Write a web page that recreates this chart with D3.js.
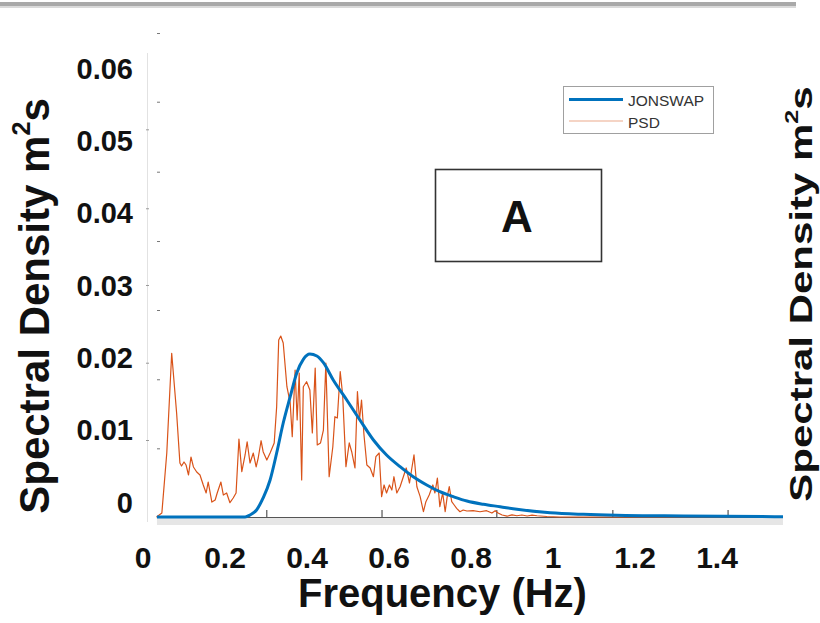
<!DOCTYPE html>
<html lang="en">
<head>
<meta charset="UTF-8">
<title>JONSWAP vs PSD</title>
<script src="https://d3js.org/d3.v7.min.js"></script>
<style>
  body { margin: 0; background: #fff; }
  text { font-family: "Liberation Sans", Arial, sans-serif; }
</style>
</head>
<body>
<script>
// values: frequency (Hz) and spectral density (m^2 s)
var psdFreq = [0.033,0.046,0.058,0.070,0.082,0.090,0.094,0.100,0.105,0.111,
  0.117,0.123,0.131,0.139,0.147,0.154,0.159,0.168,0.176,0.181,
  0.190,0.196,0.204,0.212,0.220,0.227,0.234,0.241,0.249,0.254,
  0.261,0.269,0.276,0.281,0.288,0.293,0.302,0.310,0.320,0.326,
  0.331,0.336,0.342,0.351,0.359,0.364,0.371,0.376,0.381,0.387,
  0.391,0.399,0.407,0.413,0.420,0.425,0.433,0.440,0.446,0.454,
  0.463,0.468,0.474,0.481,0.487,0.495,0.503,0.509,0.517,0.523,
  0.528,0.533,0.539,0.546,0.554,0.562,0.568,0.576,0.582,0.588,
  0.594,0.601,0.607,0.612,0.619,0.627,0.635,0.642,0.650,0.655,
  0.661,0.668,0.676,0.684,0.690,0.698,0.707,0.712,0.718,0.724,
  0.731,0.737,0.742,0.747,0.753,0.759,0.765,0.773,0.781,0.790,
  0.805,0.822,0.838,0.851,0.859,0.866,0.876,0.888,0.900,0.912,
  0.924,0.937,0.949,0.961,0.985,1.017,1.561];
var psdDens = [0,0.00055,0.00885,0.02264,0.01438,0.00747,0.00705,0.00761,0.00719,0.00581,
  0.00830,0.00692,0.00622,0.00581,0.00443,0.00332,0.00484,0.00207,0.00235,0.00332,
  0.00484,0.00304,0.00332,0.00198,0.00263,0.00332,0.01079,0.00627,0.00858,0.01041,
  0.00747,0.00885,0.00692,0.00816,0.01055,0.00903,0.00788,0.00885,0.01024,0.01526,
  0.02448,0.02503,0.02407,0.01802,0.01577,0.01111,0.02033,0.01342,0.01992,0.00512,
  0.01802,0.01871,0.01757,0.01162,0.02061,0.00996,0.01024,0.01203,0.02130,0.00557,
  0.00972,0.01387,0.01369,0.02010,0.01687,0.00696,0.01024,0.00903,0.00678,0.01733,
  0.01342,0.01618,0.01134,0.00719,0.00678,0.00557,0.00834,0.00885,0.00281,0.00443,
  0.00332,0.00443,0.00373,0.00557,0.00332,0.00419,0.00557,0.00678,0.00470,0.00650,
  0.00858,0.00419,0.00281,0.00073,0.00212,0.00304,0.00443,0.00332,0.00539,0.00142,
  0.00332,0.00073,0.00281,0.00419,0.00212,0.00166,0.00120,0.00073,0.00097,0.00083,
  0.00087,0.00073,0.00087,0.00055,0.00087,0.00055,0.00028,0.00011,0.00030,0.00017,
  0.00028,0.00014,0.00025,0.00017,0.00007,0,0];

var jonFreq = [0.034,0.249,0.261,0.277,0.293,0.310,0.326,0.342,0.359,0.375,
  0.391,0.407,0.424,0.440,0.464,0.497,0.529,0.562,0.594,0.627,
  0.659,0.692,0.724,0.757,0.790,0.830,0.871,0.912,0.993,1.074,
  1.155,1.318,1.561];
var jonDens = [0,0,0.00028,0.00097,0.00263,0.00512,0.00885,0.01300,0.01664,0.01992,
  0.02181,0.02254,0.02227,0.02134,0.01895,0.01618,0.01342,0.01065,0.00858,0.00696,
  0.00557,0.00443,0.00350,0.00281,0.00221,0.00176,0.00142,0.00107,0.00059,0.00037,
  0.00024,0.00014,0.00004];

var xTickLabels = [0, 0.2, 0.4, 0.6, 0.8, 1, 1.2, 1.4];
var yTickLabels = [0, 0.01, 0.02, 0.03, 0.04, 0.05, 0.06];
// the small tick marks of the figure do not sit on the labels
var xTickMarks = [0.302, 0.583, 0.863, 1.146, 1.427];
var yDashAxis = [0.01065, 0.02134, 0.03209, 0.04270, 0.05362];
var yDashInner = [0.0095, 0.01905, 0.02863, 0.03817, 0.04776, 0.05744, 0.06694];
var legendNames = ["JONSWAP", "PSD"];

var blue = "#0072BD", orange = "#D95319";

var svg = d3.select("body").append("svg")
    .attr("width", 820)
    .attr("height", 623);

svg.append("rect").attr("width", 820).attr("height", 623).attr("fill", "#fff");

// grey rule along the top of the picture
svg.append("rect").attr("x", 0).attr("y", 2).attr("width", 796).attr("height", 4).attr("fill", "#a9a9a9");
svg.append("rect").attr("x", 0).attr("y", 6).attr("width", 796).attr("height", 2).attr("fill", "#dadada");

var x = d3.scaleLinear().domain([0, 1.4]).range([143, 717]);
var y = d3.scaleLinear().domain([0, 0.06]).range([517, 83.2]);
var labelShift = -14.8;

var xMin = d3.min(jonFreq), xMax = d3.max(jonFreq);

// left axis line, faint
svg.append("line")
    .attr("x1", 147.5).attr("x2", 147.5)
    .attr("y1", 53).attr("y2", 522)
    .attr("stroke", "#e2e2e2");

svg.selectAll(".dashA")
    .data(yDashAxis)
  .enter().append("line")
    .attr("x1", 146).attr("x2", 149)
    .attr("y1", function(d) { return y(d) + 0.5; })
    .attr("y2", function(d) { return y(d) + 0.5; })
    .attr("stroke", "#999");

svg.selectAll(".dashB")
    .data(yDashInner)
  .enter().append("line")
    .attr("x1", 157).attr("x2", 160)
    .attr("y1", function(d) { return y(d) + 0.5; })
    .attr("y2", function(d) { return y(d) + 0.5; })
    .attr("stroke", "#777");

// bottom axis: grey band + dark line + upward ticks
svg.append("rect")
    .attr("x", x(xMin)).attr("y", 518)
    .attr("width", x(xMax) - x(xMin)).attr("height", 7)
    .attr("fill", "#e6e6e6");
svg.append("line")
    .attr("x1", x(xMin)).attr("x2", x(xMax))
    .attr("y1", y(0) + 0.5).attr("y2", y(0) + 0.5)
    .attr("stroke", "#555");
svg.selectAll(".xtick")
    .data(xTickMarks)
  .enter().append("line")
    .attr("x1", function(d) { return x(d); })
    .attr("x2", function(d) { return x(d); })
    .attr("y1", y(0)).attr("y2", y(0) - 7)
    .attr("stroke", "#333");

// tick labels
svg.selectAll(".ylab")
    .data(yTickLabels)
  .enter().append("text")
    .attr("x", 133)
    .attr("y", function(d) { return y(d) + labelShift; })
    .attr("dy", "0.36em")
    .attr("text-anchor", "end")
    .attr("font-size", 29)
    .attr("font-weight", "bold")
    .attr("fill", "#111")
    .text(function(d) { return d; });

svg.selectAll(".xlab")
    .data(xTickLabels)
  .enter().append("text")
    .attr("x", function(d) { return x(d); })
    .attr("y", 568)
    .attr("text-anchor", "middle")
    .attr("font-size", 30)
    .attr("font-weight", "bold")
    .attr("fill", "#111")
    .text(function(d) { return d; });

// curves
var line = d3.line()
    .x(function(d) { return x(d[0]); })
    .y(function(d) { return y(d[1]); });

svg.append("path")
    .datum(d3.zip(psdFreq, psdDens))
    .attr("fill", "none")
    .attr("stroke", orange)
    .attr("stroke-width", 1.2)
    .attr("stroke-linejoin", "round")
    .attr("d", line);

svg.append("path")
    .datum(d3.zip(jonFreq, jonDens))
    .attr("fill", "none")
    .attr("stroke", blue)
    .attr("stroke-width", 3)
    .attr("d", line.curve(d3.curveMonotoneX));

// axis titles
svg.append("text")
    .attr("x", 298).attr("y", 607)
    .attr("font-size", 40)
    .attr("font-weight", "bold")
    .attr("fill", "#111")
    .text("Frequency (Hz)");

function densityTitle(g) {
  g.attr("text-anchor", "middle")
    .attr("font-weight", "bold")
    .attr("fill", "#111");
  g.append("tspan").text("Spectral Density m");
  g.append("tspan").attr("font-size", "60%").attr("dy", "-0.75em").text("2");
  g.append("tspan").attr("dy", "0.45em").text("s");
}

svg.append("text")
    .attr("transform", "translate(49,306) rotate(-90)")
    .attr("font-size", 42)
    .call(densityTitle);

svg.append("text")
    .attr("transform", "translate(812,294) scale(0.74,1) rotate(-90)")
    .attr("font-size", 42)
    .call(densityTitle);

// legend
var legend = svg.append("g");
legend.append("rect")
    .attr("x", 563.5).attr("y", 86.5)
    .attr("width", 150).attr("height", 47)
    .attr("fill", "#fff")
    .attr("stroke", "#a0a0a0");

var legendRows = legend.selectAll(".row")
    .data(legendNames)
  .enter().append("g")
    .attr("transform", function(d, i) { return "translate(0," + (i * 21.5) + ")"; });

legendRows.append("line")
    .attr("x1", 569).attr("x2", 623)
    .attr("y1", 99.5).attr("y2", 99.5)
    .attr("stroke", function(d, i) { return i === 0 ? blue : orange; })
    .attr("stroke-width", function(d, i) { return i === 0 ? 3 : 1.2; })
    .attr("stroke-opacity", function(d, i) { return i === 0 ? 1 : 0.5; });

legendRows.append("text")
    .attr("x", 628).attr("y", 106)
    .attr("font-size", 15.5)
    .attr("fill", "#333")
    .text(function(d) { return d; });

// panel tag
svg.append("rect")
    .attr("x", 435.5).attr("y", 169.5)
    .attr("width", 166).attr("height", 92)
    .attr("fill", "#fff")
    .attr("stroke", "#333")
    .attr("stroke-width", 1.6);
svg.append("text")
    .attr("x", 517).attr("y", 232)
    .attr("text-anchor", "middle")
    .attr("font-size", 44)
    .attr("font-weight", "bold")
    .attr("fill", "#111")
    .text("A");
</script>
</body>
</html>
